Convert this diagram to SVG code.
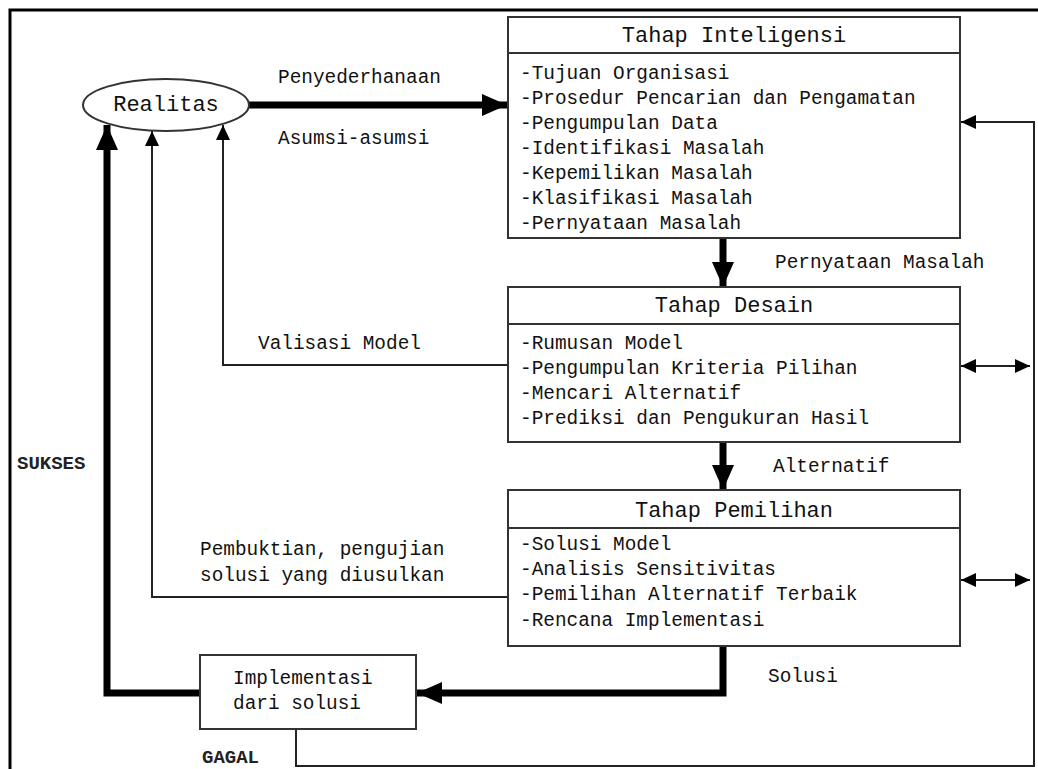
<svg xmlns="http://www.w3.org/2000/svg" width="1038" height="769" viewBox="0 0 1038 769">
<defs>
<style>
.t{font-family:"Liberation Mono","DejaVu Sans Mono",monospace;font-size:19.4px;fill:#111}
.h{font-family:"Liberation Mono","DejaVu Sans Mono",monospace;font-size:22px;fill:#111}
.b{font-family:"Liberation Mono","DejaVu Sans Mono",monospace;font-size:19px;font-weight:bold;fill:#222}
.box{fill:#fff;stroke:#333;stroke-width:2}
.div{stroke:#333;stroke-width:2}
.thin{fill:none;stroke:#222;stroke-width:2}
.thick{fill:none;stroke:#000;stroke-width:7}
</style>
<marker id="ah" markerUnits="userSpaceOnUse" markerWidth="16" markerHeight="14" refX="15" refY="7" orient="auto-start-reverse"><path d="M0,0 L15,7 L0,14 z" fill="#000"/></marker>
<marker id="ahb" markerUnits="userSpaceOnUse" markerWidth="26" markerHeight="24" refX="25" refY="12" orient="auto"><path d="M0,1 L25,12 L0,23 z" fill="#000"/></marker>
</defs>
<rect width="1038" height="769" fill="#fff"/>
<g id="frame">
<path d="M10,769 V10 H1038" fill="none" stroke="#000" stroke-width="3"/>
</g>
<g id="connectors">
<path class="thick" d="M249,105 H507" stroke-width="6" marker-end="url(#ahb)"/>
<path class="thick" d="M723,238 V287" stroke-width="6" marker-end="url(#ahb)"/>
<path class="thick" d="M723,442 V490" stroke-width="6" marker-end="url(#ahb)"/>
<path class="thick" d="M723,646 V693 H417" marker-end="url(#ahb)"/>
<path class="thick" d="M200,693 H107 V125" marker-end="url(#ahb)"/>
<path class="thin" d="M508,597 H152 V131" marker-end="url(#ah)"/>
<path class="thin" d="M508,365 H223 V125" marker-end="url(#ah)"/>
<path class="thin" d="M296,729 V766 H1034 V122 H961" marker-end="url(#ah)"/>
<path class="thin" d="M961,366 H1030" marker-start="url(#ah)" marker-end="url(#ah)"/>
<path class="thin" d="M961,580 H1030" marker-start="url(#ah)" marker-end="url(#ah)"/>
<text class="t" x="278" y="83">Penyederhanaan</text>
<text class="t" x="278" y="144">Asumsi-asumsi</text>
<text class="t" x="775" y="268">Pernyataan Masalah</text>
<text class="t" x="773" y="472">Alternatif</text>
<text class="t" x="768" y="682">Solusi</text>
<text class="t" x="258" y="349">Valisasi Model</text>
<text class="t" x="200" y="555">Pembuktian, pengujian</text>
<text class="t" x="200" y="581">solusi yang diusulkan</text>
<text class="b" x="17" y="469">SUKSES</text>
<text class="b" x="202" y="763">GAGAL</text>
</g>
<g id="realitas">
<ellipse cx="166" cy="105" rx="83" ry="26" fill="#fff" stroke="#333" stroke-width="2"/>
<text class="h" x="166" y="111" text-anchor="middle">Realitas</text>
</g>
<g id="inteligensi">
<rect class="box" x="508" y="17" width="452" height="221"/>
<line class="div" x1="508" y1="53" x2="960" y2="53"/>
<text class="h" x="734" y="42" text-anchor="middle">Tahap Inteligensi</text>
<text class="t" x="520" y="79">-Tujuan Organisasi</text>
<text class="t" x="520" y="104">-Prosedur Pencarian dan Pengamatan</text>
<text class="t" x="520" y="129">-Pengumpulan Data</text>
<text class="t" x="520" y="154">-Identifikasi Masalah</text>
<text class="t" x="520" y="179">-Kepemilikan Masalah</text>
<text class="t" x="520" y="204">-Klasifikasi Masalah</text>
<text class="t" x="520" y="229">-Pernyataan Masalah</text>
</g>
<g id="desain">
<rect class="box" x="508" y="287" width="452" height="155"/>
<line class="div" x1="508" y1="324" x2="960" y2="324"/>
<text class="h" x="734" y="312" text-anchor="middle">Tahap Desain</text>
<text class="t" x="520" y="349">-Rumusan Model</text>
<text class="t" x="520" y="374">-Pengumpulan Kriteria Pilihan</text>
<text class="t" x="520" y="399">-Mencari Alternatif</text>
<text class="t" x="520" y="424">-Prediksi dan Pengukuran Hasil</text>
</g>
<g id="pemilihan">
<rect class="box" x="508" y="490" width="452" height="156"/>
<line class="div" x1="508" y1="528" x2="960" y2="528"/>
<text class="h" x="734" y="517" text-anchor="middle">Tahap Pemilihan</text>
<text class="t" x="520" y="550">-Solusi Model</text>
<text class="t" x="520" y="575">-Analisis Sensitivitas</text>
<text class="t" x="520" y="600">-Pemilihan Alternatif Terbaik</text>
<text class="t" x="520" y="626">-Rencana Implementasi</text>
</g>
<g id="implementasi">
<rect class="box" x="200" y="655" width="216" height="74"/>
<text class="t" x="233" y="684">Implementasi</text>
<text class="t" x="233" y="709">dari solusi</text>
</g>
</svg>
